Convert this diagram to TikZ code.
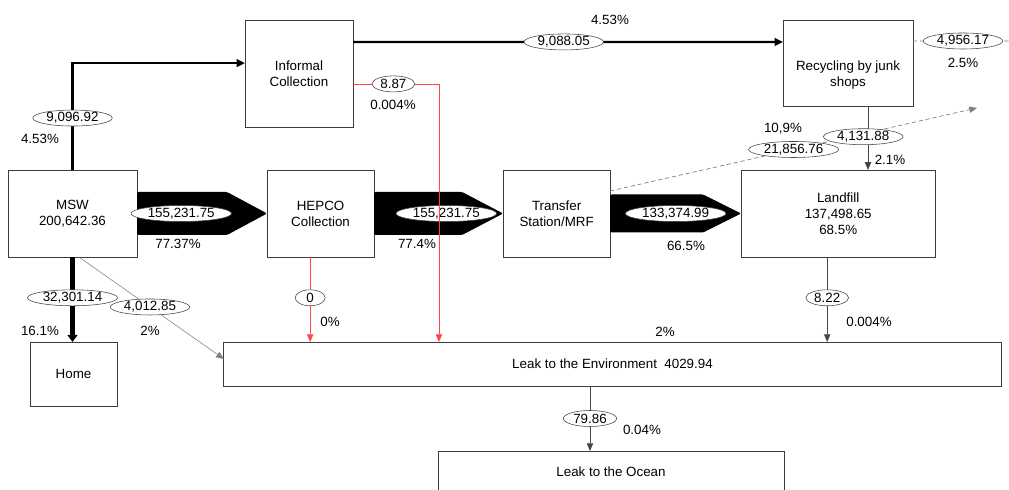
\documentclass[tikz,border=0pt]{standalone}
\usepackage{fontspec}
\setmainfont{Liberation Sans}
\usetikzlibrary{positioning,arrows.meta,calc,shapes.geometric}
\definecolor{boxgray}{RGB}{60,60,60}
\definecolor{linegray}{RGB}{70,70,70}
\definecolor{leakred}{RGB}{255,70,70}

\begin{document}
\begin{tikzpicture}[x=0.025cm, y=-0.025cm,
  every node/.style={font=\fontsize{9.5}{11.5}\selectfont},
  box/.style={draw=boxgray, line width=0.6pt, fill=white, align=center,
              inner sep=0pt, outer sep=0pt, minimum width=2.675cm, minimum height=2.175cm},
  oval/.style={ellipse, solid, draw=linegray, line width=0.4pt, fill=white,
               inner xsep=1.5pt, inner ysep=0pt, minimum width=0.75cm, minimum height=0.4cm},
  pct/.style={inner sep=0pt},
  tip/.style={-{Triangle[length=5.5pt,width=4.5pt]}},
  arr/.style={tip, draw=linegray, line width=0.6pt},
  thinarr/.style={tip, draw=gray, line width=0.4pt},
  boldarr/.style={-{Triangle[length=6pt,width=5.5pt]}, line width=1.6pt},
  homearr/.style={-{Triangle[length=5pt,width=7pt]}, line width=4pt},
  redarr/.style={tip, draw=leakred, line width=0.5pt},
  dasharr/.style={draw=gray, line width=0.5pt, dash pattern=on 3pt off 2pt},
  fat/.style={fill=black, rounded corners=1pt}]
\clip (0,0) rectangle (1009,490);
\node[box, minimum width=3.225cm] (msw) at (72.5,213.5) {MSW\\200,642.36};
\node[box, right=3.25cm of msw] (hepco) {HEPCO\\Collection};
\node[box, right=3.225cm of hepco] (transfer) {Transfer\\Station/MRF};
\node[box, minimum width=4.85cm, right=3.275cm of transfer] (landfill) {Landfill\\137,498.65\\68.5\%};
\node[box, minimum width=2.7cm, minimum height=2.675cm] (informal) at (299,73.5) {Informal\\Collection};
\node[box, minimum width=3.25cm, minimum height=2.15cm,
      label={[align=center, yshift=-0.3cm]center:Recycling by junk\\shops}] (recycle) at (848,63) {};
\node[box, minimum width=2.175cm, minimum height=1.6cm] (home) at (73.5,374) {Home};
\node[box, minimum width=19.425cm, minimum height=1.1cm] (env) at (612.5,364) {Leak to the Environment\ \ 4029.94};
\node[box, minimum width=8.65cm, minimum height=1.05cm] (ocean) at (611,472) {Leak to the Ocean};

\fill[fat] ($(msw.east)+(0,-21.5)$) -- ($(hepco.west)+(-40,-21.5)$) -- (hepco.west)
  -- ($(hepco.west)+(-40,21.5)$) -- ($(msw.east)+(0,21.5)$) -- cycle;
\fill[fat] ($(hepco.east)+(0,-21.5)$) -- ($(transfer.west)+(-41,-21.5)$) -- (transfer.west)
  -- ($(transfer.west)+(-41,21.5)$) -- ($(hepco.east)+(0,21.5)$) -- cycle;
\fill[fat] ($(transfer.east)+(0,-19)$) -- ($(landfill.west)+(-38,-19)$) -- (landfill.west)
  -- ($(landfill.west)+(-38,19)$) -- ($(transfer.east)+(0,19)$) -- cycle;
\node[oval] (f1) at ($(msw.east)!0.34!(hepco.west)$) {155,231.75};
\node[oval] (f2) at ($(hepco.east)!0.56!(transfer.west)$) {155,231.75};
\node[oval] (f3) at ($(transfer.east)!0.5!(landfill.west)$) {133,374.99};

\coordinate (tout) at (977,108);
\coordinate (rout) at (1015,41);
\coordinate (hs) at ([xshift=-0.26cm]hepco.south);
\coordinate (ls) at ([xshift=-0.275cm]landfill.south);
\coordinate (rs) at ([xshift=0.5cm]recycle.south);
\coordinate (es) at ([xshift=-0.5625cm]env.south);
\coordinate (redin) at ([xshift=5.375cm]env.north west);

\draw[boldarr] (msw.north) |- ([yshift=0.26cm]informal.west) node[oval, pos=0.243] (q1) {9,096.92};
\draw[boldarr] ([yshift=0.79cm]informal.east) -- ([yshift=0.525cm]recycle.west) node[oval, pos=0.49] (q2) {9,088.05};
\draw[homearr] (msw.south) -- (msw.south |- home.north) node[oval, pos=0.48] (q3) {32,301.14};
\draw[thinarr] ([xshift=0.16cm]msw.south) -- ([yshift=0.125cm]env.west) node[oval, pos=0.49] (q4) {4,012.85};
\draw[dasharr, tip] ([yshift=0.5625cm]transfer.east) -- (tout) node[oval, pos=0.5] (q5) {21,856.76};
\draw[dasharr] ([yshift=0.55cm]recycle.east) -- (rout) node[oval, pos=0.49] (q6) {4,956.17};
\draw[arr] (rs) -- (rs |- landfill.north) node[oval, pos=0.48, xshift=-0.12cm] (q7) {4,131.88};
\draw[arr] (ls) -- (ls |- env.north) node[oval, pos=0.48] (q8) {8.22};
\draw[arr] (es) -- (es |- ocean.north) node[oval, pos=0.5] (q9) {79.86};
\draw[redarr] ([yshift=-0.26cm]informal.east) -| (redin) node[oval, pos=0.235] (q10) {8.87};
\draw[redarr] (hs) -- (hs |- env.north) node[oval, pos=0.48] (q11) {0};

\node[pct] at (40,139) {4.53\%};
\node[pct] at (610,20) {4.53\%};
\node[pct] at (393,105) {0.004\%};
\node[pct] at (963,63) {2.5\%};
\node[pct] at (783,129) {10,9\%};
\node[pct] at (890,160) {2.1\%};
\node[pct] at (178,244) {77.37\%};
\node[pct] at (417,244) {77.4\%};
\node[pct] at (686,246) {66.5\%};
\node[pct] at (40,331) {16.1\%};
\node[pct] at (150,331) {2\%};
\node[pct] at (330,322) {0\%};
\node[pct] at (869,322) {0.004\%};
\node[pct] at (665,332) {2\%};
\node[pct] at (642,430) {0.04\%};
\end{tikzpicture}
\end{document}
